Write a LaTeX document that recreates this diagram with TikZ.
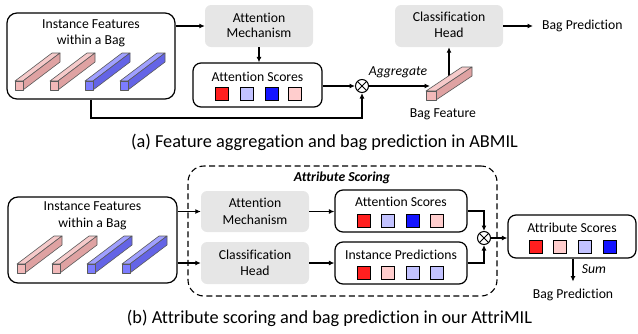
\documentclass[tikz,border=0pt]{standalone}
\usepackage{fontspec}
\setmainfont{Carlito}[Ligatures={NoCommon}]
\usetikzlibrary{arrows.meta}

% module fill and score colours
\definecolor{boxgray}{HTML}{E6E6E6}
\definecolor{sqred}{HTML}{FF1F1F}
\definecolor{sqlblue}{HTML}{C2C2FF}
\definecolor{sqblue}{HTML}{1414FF}
\definecolor{sqpink}{HTML}{FFCDCD}
% faces of the feature bars
\definecolor{pinkfront}{HTML}{F2B9B9}
\definecolor{pinktop}{HTML}{F6CACA}
\definecolor{pinkside}{HTML}{DFA2A2}
\definecolor{bluefront}{HTML}{7C7CFF}
\definecolor{bluetop}{HTML}{A0A0FF}
\definecolor{blueside}{HTML}{6464E6}
\definecolor{barline}{HTML}{5A5A5A}

% a feature vector drawn as a long prism:
% #1,#2 lower-left corner of the end face, #3 width, #4 height,
% #5,#6 depth vector (right, up), #7 colour family
\newcommand{\featbar}[7]{%
  \filldraw[barstroke, fill=#7top] (#1,#2) ++(0,-#4) -- ++(#3,0) -- ++(#5,-#6) -- ++(-#3,0) -- cycle;
  \filldraw[barstroke, fill=#7side] (#1,#2) ++(#3,0) -- ++(0,-#4) -- ++(#5,-#6) -- ++(0,#4) -- cycle;
  \filldraw[barstroke, fill=#7front] (#1,#2) rectangle ++(#3,-#4);
}

\begin{document}
\begin{tikzpicture}[x=1pt, y=-1pt,
  container/.style={draw, line width=1.2pt, rounded corners=10pt, inner sep=0},
  scorebox/.style={draw, line width=1.2pt, rounded corners=8pt, inner sep=0},
  module/.style={fill=boxgray, rounded corners=6pt, inner sep=0},
  dashedbox/.style={draw, line width=1.1pt, dash pattern=on 6pt off 3.5pt, rounded corners=16pt, inner sep=0},
  sq/.style={draw, line width=0.8pt, minimum size=13pt, inner sep=0},
  otimes/.style={draw, circle, line width=1pt, minimum size=13pt, inner sep=0,
    path picture={\draw[line width=0.9pt]
      (path picture bounding box.north west) -- (path picture bounding box.south east)
      (path picture bounding box.north east) -- (path picture bounding box.south west);}},
  arr/.style={line width=1.2pt, -{Latex[length=5.5pt, width=5pt]}},
  barstroke/.style={draw=barline, line width=0.6pt, line join=round},
  txt/.style={font=\fontsize{13.7}{16}\selectfont, inner sep=0, anchor=base},
  emtxt/.style={txt, font=\fontsize{13.7}{16}\selectfont\itshape},
  caption/.style={font=\fontsize{18.3}{22}\selectfont, inner sep=0, anchor=base},
]
\useasboundingbox (0,0) rectangle (638,333);

% ---------------- (a) ABMIL ----------------
\node[container, minimum width=168pt, minimum height=86pt] (inA) at (91,56) {};
\node[txt] (inAt1) at (91,28.3) {Instance Features};
\node[txt] (inAt2) at (91,44.3) {within a Bag};
\featbar{15}{90}{8}{9}{37}{28}{pink}
\featbar{50}{90}{8}{9}{37}{28}{pink}
\featbar{85}{90}{8}{9}{37}{28}{blue}
\featbar{120}{90}{8}{9}{37}{28}{blue}

\node[module, minimum width=108pt, minimum height=42pt] (amA) at (259,26) {};
\node[txt] (amAt1) at (259,22) {Attention};
\node[txt] (amAt2) at (259,37.7) {Mechanism};

\node[scorebox, minimum width=129pt, minimum height=44pt] (scA) at (257.5,85) {};
\node[txt] (scAt) at (257.5,81) {Attention Scores};
\node[sq, fill=sqred]   (scA1) at (221.7,94) {};
\node[sq, fill=sqlblue] (scA2) at (246.7,94) {};
\node[sq, fill=sqblue]  (scA3) at (271.7,94) {};
\node[sq, fill=sqpink]  (scA4) at (295,94) {};

\node[otimes] (otA) at (362,86) {};

\node[module, minimum width=108pt, minimum height=42pt] (chA) at (449,26) {};
\node[txt] (chAt1) at (449,21.7) {Classification};
\node[txt] (chAt2) at (449,37.3) {Head};
\node[txt, anchor=base west, inner xsep=9pt] (bpA) at (533,29.3) {Bag Prediction};

\draw[arr] (inA.east |- amA.west) -- (amA.west);
\draw[arr] (amA.south) -- (amA.south |- scA.north);
\draw[arr] (otA -| scA.east) -- (otA.west);
\path (otA) ++(0,32) coordinate (fbA);
\draw[arr] (inA.south) |- (fbA) -- (otA.south);
\coordinate (bfIn) at (430,86);
\draw[arr] (otA.east) -- (bfIn);
\node[emtxt] (aggA) at (398,75) {Aggregate};
\coordinate (bfTop) at (448,76);
\draw[arr] (chA.south |- bfTop) -- (chA.south);
\featbar{426}{100}{10}{9}{36}{24}{pink}
\node[txt] (bfA) at (443,117) {Bag Feature};
\draw[arr] (chA.east) -- (chA.east -| bpA.west);

\node[caption] (capA) at (324.5,147) {(a) Feature aggregation and bag prediction in ABMIL};

% ---------------- (b) AttriMIL ----------------
\node[container, minimum width=169pt, minimum height=86pt] (inB) at (92.5,240) {};
\node[txt] (inBt1) at (92.5,210.7) {Instance Features};
\node[txt] (inBt2) at (92.5,227.3) {within a Bag};
\featbar{17}{273}{8}{9}{37}{28}{pink}
\featbar{52}{273}{8}{9}{37}{28}{pink}
\featbar{87}{273}{8}{9}{37}{28}{blue}
\featbar{122}{273}{8}{9}{37}{28}{blue}

\node[dashedbox, minimum width=309pt, minimum height=130pt] (dsB) at (342.5,231) {};
\node[txt, font=\fontsize{13.7}{16}\selectfont\bfseries\itshape] (dsBt) at (342,181.7) {Attribute Scoring};

\node[module, minimum width=108pt, minimum height=41pt] (amB) at (255,211.5) {};
\node[txt] (amBt1) at (255,207.3) {Attention};
\node[txt] (amBt2) at (255,224) {Mechanism};

\node[module, minimum width=108pt, minimum height=42pt] (chB) at (255,263) {};
\node[txt] (chBt1) at (255,259.3) {Classification};
\node[txt] (chBt2) at (255,275.7) {Head};

\node[scorebox, minimum width=132pt, minimum height=42pt] (asB) at (401,211) {};
\node[txt] (asBt) at (401,206.7) {Attention Scores};
\node[sq, fill=sqred]   (asB1) at (363.5,221) {};
\node[sq, fill=sqlblue] (asB2) at (387.5,221) {};
\node[sq, fill=sqblue]  (asB3) at (412.5,221) {};
\node[sq, fill=sqpink]  (asB4) at (436.5,221) {};

\node[scorebox, minimum width=132pt, minimum height=42pt] (ipB) at (401,263) {};
\node[txt] (ipBt) at (401,259) {Instance Predictions};
\node[sq, fill=sqred]   (ipB1) at (363.5,272.5) {};
\node[sq, fill=sqpink]  (ipB2) at (387.5,272.5) {};
\node[sq, fill=sqlblue] (ipB3) at (412.5,272.5) {};
\node[sq, fill=sqlblue] (ipB4) at (436.5,272.5) {};

\node[otimes] (otB) at (484,238) {};

\node[scorebox, minimum width=128pt, minimum height=43pt] (atB) at (572,236.5) {};
\node[txt] (atBt) at (572,232.7) {Attribute Scores};
\node[sq, fill=sqred]   (atB1) at (535.5,247) {};
\node[sq, fill=sqpink]  (atB2) at (559.5,247) {};
\node[sq, fill=sqlblue] (atB3) at (584.5,247) {};
\node[sq, fill=sqblue]  (atB4) at (609.5,247) {};

\node[txt, inner ysep=7pt] (bpB) at (573,298.3) {Bag Prediction};
\node[emtxt] (sumB) at (594,273.3) {Sum};

\draw[arr] (inB.east |- amB.west) -- (amB.west);
\draw[arr] (inB.east |- chB.west) -- (chB.west);
\draw[arr] (amB.east) -- (amB.east -| asB.west);
\draw[arr] (chB.east) -- (chB.east -| ipB.west);
\draw[arr] (asB.east) -| (otB.north);
\draw[arr] (ipB.east) -| (otB.south);
\draw[arr] (otB.east) -- (otB.east -| atB.west);
\draw[arr] (atB.south -| bpB.north) -- (bpB.north);

\node[caption] (capB) at (329.5,323) {(b) Attribute scoring and bag prediction in our AttriMIL};
\end{tikzpicture}
\end{document}
